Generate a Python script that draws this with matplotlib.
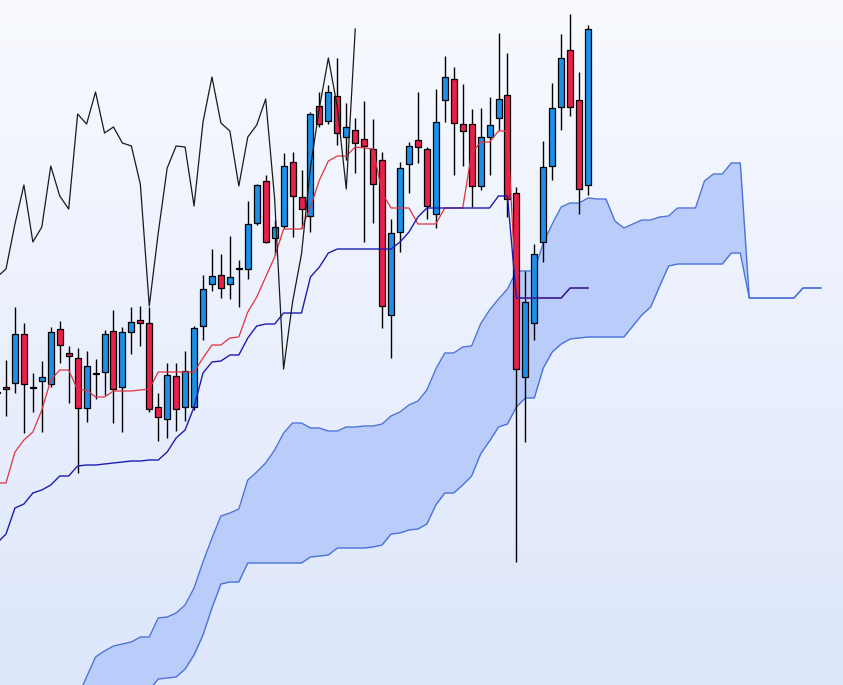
import numpy as np
import matplotlib
matplotlib.use("Agg")
import matplotlib.pyplot as plt

# ---------------- data (candles index -1 .. 65) ----------------
first_index = -1
opens = [129.2, 129.8, 130.2, 135.1, 129.7, 130.4, 130.1, 135.6, 133.2, 132.7,
         127.7, 131.1, 131.3, 135.4, 129.8, 135.3, 136.5, 136.2, 127.8, 126.6,
         130.9, 127.8, 127.8, 135.9, 140.1, 141.0, 140.1, 141.6, 141.6, 146.2,
         150.4, 144.7, 145.9, 152.3, 148.8, 146.9, 157.9, 156.4, 158.9, 154.8,
         155.5, 154.6, 153.6, 152.5, 137.0, 145.3, 152.1, 154.5, 153.6, 147.1,
         158.5, 160.6, 156.1, 156.1, 149.9, 154.8, 156.7, 159.0, 149.2, 130.8,
         136.2, 144.3, 151.9, 157.8, 163.5, 158.5, 150.0]
highs = [130.0, 132.5, 137.8, 136.2, 131.2, 132.4, 135.8, 136.4, 133.9, 133.7,
         133.4, 132.6, 135.5, 137.5, 135.8, 137.8, 137.9, 137.8, 129.2, 132.2,
         132.2, 133.4, 135.9, 141.0, 143.6, 143.1, 144.9, 142.5, 148.4, 150.1,
         151.0, 146.5, 153.2, 153.3, 151.5, 157.3, 159.3, 160.0, 162.7, 158.2,
         156.7, 158.4, 156.6, 153.3, 146.6, 152.3, 154.3, 159.3, 153.8, 159.6,
         162.9, 161.8, 160.1, 157.6, 157.7, 158.8, 165.2, 163.2, 149.8, 141.4,
         144.1, 154.4, 160.2, 165.1, 167.1, 161.3, 166.0]
lows = [128.5, 126.9, 129.2, 125.2, 127.3, 125.3, 129.8, 132.2, 128.2, 121.2,
        126.3, 128.6, 129.0, 126.2, 125.3, 133.1, 133.9, 127.3, 124.4, 124.7,
        125.4, 126.4, 127.5, 134.5, 139.4, 138.7, 138.6, 137.8, 140.6, 146.0,
        144.2, 143.0, 145.7, 144.8, 145.7, 145.3, 155.8, 156.1, 154.0, 152.5,
        151.2, 144.3, 146.2, 135.7, 132.7, 143.3, 149.2, 152.2, 146.6, 145.7,
        156.3, 151.0, 151.9, 147.8, 149.5, 151.0, 155.5, 146.8, 112.3, 124.3,
        134.5, 142.3, 150.5, 155.5, 156.9, 147.1, 149.0]
closes = [129.2, 129.6, 135.1, 130.1, 129.7, 130.8, 135.3, 134.0, 132.9, 127.7,
          131.9, 131.1, 135.1, 129.6, 135.3, 136.3, 136.2, 127.6, 126.8, 131.0,
          127.6, 131.4, 135.7, 139.6, 140.9, 139.7, 140.8, 141.6, 146.1, 150.0,
          144.3, 145.8, 151.9, 148.9, 147.6, 157.1, 156.1, 159.3, 155.2, 155.8,
          154.2, 153.9, 150.1, 137.9, 145.2, 151.7, 153.9, 153.8, 147.9, 156.3,
          160.8, 156.2, 155.4, 149.9, 154.8, 156.0, 158.6, 148.6, 131.6, 138.3,
          143.1, 151.8, 157.7, 162.7, 157.8, 149.6, 165.6]

tenkan = ([120.2, 120.2, 123.3, 124.5, 125.3, 127.5, 130.5, 131.5, 131.5, 129.5,
           129.5, 128.8, 128.8, 129.4, 129.4, 129.4, 129.5, 129.6]
          + [131.3] * 5
          + [132.7, 134.0, 134.0, 134.7, 134.8, 137.3, 138.8, 140.8, 142.8]
          + [145.6] * 3
          + [147.8, 150.5, 152.4, 152.9, 152.9, 153.8, 153.7, 153.6, 149.2]
          + [147.7] * 3 + [146.1] * 3 + [147.7] * 3
          + [153.2, 154.3, 154.3, 155.4, 155.4]
          + [138.7] * 6 + [139.7] * 3)

kijun = ([114.2, 115.1, 117.7, 118.1, 119.2, 119.5, 120.0, 120.9, 120.9, 121.9,
          122.0, 122.0, 122.1, 122.2, 122.3, 122.4, 122.4, 122.5, 122.5, 123.3,
          124.7, 125.5, 127.8, 131.2, 132.3, 132.4, 133.0, 133.0, 134.7, 135.9,
          136.1, 136.1]
         + [137.2] * 3
         + [140.8, 141.8, 143.2]
         + [143.6] * 7
         + [144.3, 145.3, 146.8, 147.7]
         + [147.7] * 7
         + [148.9, 148.9]
         + [138.7] * 6 + [139.7] * 3)

# cloud (index 8 .. 91)
cloud_first = 8
span_a = ([98.8, 100.8, 102.8, 103.4, 103.9, 104.1, 104.3, 104.8, 104.8, 106.7,
           106.8, 107.2, 108.0, 109.7, 112.3, 114.7, 116.9, 117.2, 117.6, 120.5,
           121.3, 122.2, 123.5, 125.2, 126.2, 126.2, 125.7, 125.7, 125.4, 125.4,
           125.8, 125.8, 125.9, 125.9, 126.1, 126.9, 127.3, 128.0, 128.4, 129.5,
           131.6, 133.2, 133.2, 133.8, 133.9, 136.1, 137.5, 138.6, 139.6,
           141.4, 141.4, 141.4, 144.2, 146.1, 147.8, 148.2, 148.2, 148.7, 148.6,
           148.6, 146.4, 145.7, 146.1, 146.5, 146.5, 146.8, 146.9,
           147.7, 147.7, 147.7, 150.4, 151.1, 151.1, 152.2, 152.2]
          + [138.7] * 6 + [139.7] * 3)
span_b = ([92.5, 93.3, 94.0, 95.0, 96.0, 97.0, 98.0, 98.8, 99.5, 100.6,
           100.7, 100.8, 101.6, 103.0, 105.0, 107.7, 110.1, 110.3, 110.3]
          + [112.2] * 7
          + [112.8, 112.9, 113.0]
          + [113.7] * 4
          + [113.8, 114.0, 115.1, 115.2, 115.5, 115.6, 116.1, 118.0, 119.2, 119.2,
             120.0, 120.9, 123.1, 124.4, 125.8, 126.1, 127.8, 128.7, 128.7, 131.7,
             133.3, 134.1, 134.6, 134.7]
          + [134.8] * 5
          + [135.9, 137.0, 137.8, 139.9, 141.9]
          + [142.1] * 6
          + [143.2, 143.2]
          + [138.7] * 6 + [139.7] * 3)

chikou_shift = 26

# ---------------- styles ----------------
UP = "#1E8FE6"
DOWN = "#E8204A"
TENKAN_C = "#E0333F"
KIJUN_C = "#1C1CB0"
CLOUD_FILL = "#B9CCFA"
CLOUD_EDGE = "#4C74D8"

fig = plt.figure(figsize=(8.43, 6.85), dpi=100)
ax = fig.add_axes([0, 0, 1, 1])
ax.axis("off")

XMIN, XMAX = -0.670, 93.47
YMIN, YMAX = 100.0, 168.5
ax.set_xlim(XMIN, XMAX)
ax.set_ylim(YMIN, YMAX)

# background gradient
top = np.array([248, 250, 255]) / 255
bot = np.array([221, 230, 251]) / 255
t = np.linspace(0, 1, 256)[:, None]
grad = (top * (1 - t) + bot * t)[:, None, :]
ax.imshow(grad, extent=[XMIN, XMAX, YMIN, YMAX], aspect="auto", zorder=0,
          interpolation="bilinear")

o = np.array(opens); h = np.array(highs); l = np.array(lows); c = np.array(closes)
x = np.arange(first_index, first_index + len(o))

# cloud
xc = np.arange(cloud_first, cloud_first + len(span_a))
sa = np.array(span_a); sb = np.array(span_b)
ax.fill_between(xc, sa, sb, color=CLOUD_FILL, linewidth=0, zorder=1)
ax.plot(xc, sa, color=CLOUD_EDGE, lw=1.0, zorder=1.5)
ax.plot(xc, sb, color=CLOUD_EDGE, lw=1.0, zorder=1.5)

# candles
ax.vlines(x, l, h, color="black", lw=1.0, zorder=2)
colors = [UP if cc > oo else DOWN for oo, cc in zip(o, c)]
body_h = np.maximum(np.abs(c - o), 0.12)
body_b = np.minimum(o, c)
ax.bar(x, body_h, bottom=body_b, width=0.67, color=colors, edgecolor="black",
       linewidth=0.9, zorder=3)

# tenkan / kijun
ax.plot(x, tenkan, color=TENKAN_C, lw=0.9, zorder=4)
ax.plot(x, kijun, color=KIJUN_C, lw=1.0, zorder=4.1)

# chikou: closes shifted back 26 periods
xk = x[:len(c) - chikou_shift] 
ax.plot(xk, c[chikou_shift:], color="#1a1a1a", lw=0.9, zorder=4.2)

fig.savefig("out.png", dpi=100)
